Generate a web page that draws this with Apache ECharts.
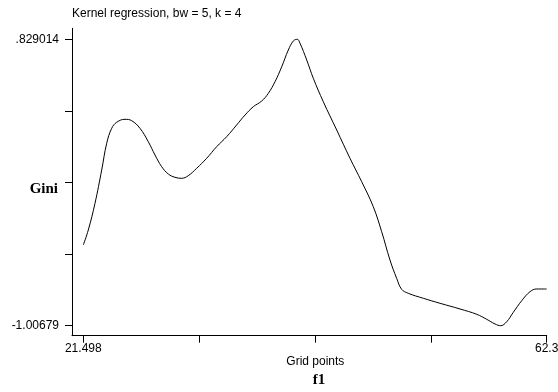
<!DOCTYPE html>
<html><head><meta charset="utf-8">
<script src="https://cdn.jsdelivr.net/npm/echarts@6/dist/echarts.min.js"></script>
<style>html,body{margin:0;padding:0;background:#fff}#c{width:558px;height:392px}</style>
</head><body><div id="c"></div>
<script>
const titleText = 'Kernel regression, bw = 5, k = 4';
const xName = 'Grid points';
const varName = 'f1';
const yName = 'Gini';
const xTicks = [21.498, 31.6985, 41.899, 52.0995, 62.3];
const xTickLabels = ['21.498', '', '', '', '62.3'];
const yTicks = [-1.00679, -0.547839, -0.088888, 0.370063, 0.829014];
const yTickLabels = ['-1.00679', '', '', '', '.829014'];
const gridX = [21.498, 21.938, 22.528, 23.118, 23.558, 24.0, 24.439, 25.17, 25.76, 26.49,
  27.22, 27.81, 28.40, 28.98, 29.57, 30.16, 30.74, 31.48, 32.36, 33.24,
  34.12, 35.00, 35.74, 36.47, 37.21, 37.79, 38.38, 38.97, 39.55, 39.99,
  40.34, 40.58, 41.17, 41.75, 42.63, 43.81, 44.98, 46.01, 47.03, 47.77,
  48.50, 49.09, 49.53, 50.11, 51.44, 52.91, 54.67, 56.14, 57.02, 57.75,
  58.25, 58.78, 59.36, 60.10, 60.83, 61.42, 62.3];
const gini = [-0.4895, -0.3934, -0.2222, -0.0088, 0.1624, 0.2585, 0.2970, 0.3162, 0.3072, 0.2585,
  0.1726, 0.0874, 0.0124, -0.0344, -0.0556, -0.0620, -0.0453, 0.0021, 0.0662, 0.1406,
  0.2047, 0.2797, 0.3438, 0.3970, 0.4335, 0.4829, 0.5572, 0.6534, 0.7604, 0.8181,
  0.829014, 0.8034, 0.6963, 0.5790, 0.4290, 0.2476, 0.0662, -0.0838, -0.2440, -0.4043,
  -0.5857, -0.7030, -0.7735, -0.7991, -0.8312, -0.8632, -0.8997, -0.9337, -0.9658, -0.9959,
  -1.00679, -0.9812, -0.9209, -0.8465, -0.7889, -0.7715, -0.7715];

function lookup(ticks, labels, v) {
  for (let i = 0; i < ticks.length; i++) if (Math.abs(ticks[i] - v) < 1e-6) return labels[i];
  return '';
}
const sans = 'Liberation Sans, Arial, sans-serif';
const serif = 'Liberation Serif, Times New Roman, serif';
const chart = echarts.init(document.getElementById('c'), null, {renderer: 'canvas'});
chart.setOption({
  animation: false,
  backgroundColor: '#fff',
  title: [
    {text: titleText, left: 72, top: 8, padding: 0,
     textStyle: {fontFamily: sans, fontSize: 12, fontWeight: 'normal', color: '#000'}},
    {text: varName, left: 319, top: 373, padding: 0, textAlign: 'center',
     textStyle: {fontFamily: serif, fontSize: 15, fontWeight: 'bold', color: '#000'}}
  ],
  grid: {left: 72, right: 11.3, top: 28.3, bottom: 56.3, containLabel: false, outerBoundsMode: 'none'},
  xAxis: {
    type: 'value', min: 20.503, max: 62.3,
    name: xName, nameLocation: 'middle', nameGap: 20, nameMoveOverlap: false,
    nameTextStyle: {fontFamily: sans, fontSize: 12, color: '#000', padding: [0, 0, 0, 12]},
    axisLine: {show: true, onZero: false, lineStyle: {color: '#000', width: 1}},
    axisTick: {show: true, length: 7, customValues: xTicks, lineStyle: {color: '#000'}},
    axisLabel: {show: true, margin: 7, customValues: [xTicks[0], xTicks[4]],
      fontFamily: sans, fontSize: 12, color: '#000',
      formatter: v => lookup(xTicks, xTickLabels, v)},
    splitLine: {show: false}
  },
  yAxis: {
    type: 'value', min: -1.0709, max: 0.8995,
    name: yName, nameLocation: 'middle', nameGap: 14, nameRotate: 0, nameMoveOverlap: false,
    nameTextStyle: {fontFamily: serif, fontSize: 15, fontWeight: 'bold', color: '#000', verticalAlign: 'top'},
    axisLine: {show: true, onZero: false, lineStyle: {color: '#000', width: 1}},
    axisTick: {show: true, length: 7, customValues: yTicks, lineStyle: {color: '#000'}},
    axisLabel: {show: true, margin: 13, customValues: [yTicks[0], yTicks[4]],
      fontFamily: sans, fontSize: 12, color: '#000',
      formatter: v => lookup(yTicks, yTickLabels, v)},
    splitLine: {show: false}
  },
  series: [{
    type: 'line', data: gridX.map((x, i) => [x, gini[i]]),
    showSymbol: false, smooth: 0.4,
    lineStyle: {color: '#000', width: 1}
  }]
});
</script></body></html>
